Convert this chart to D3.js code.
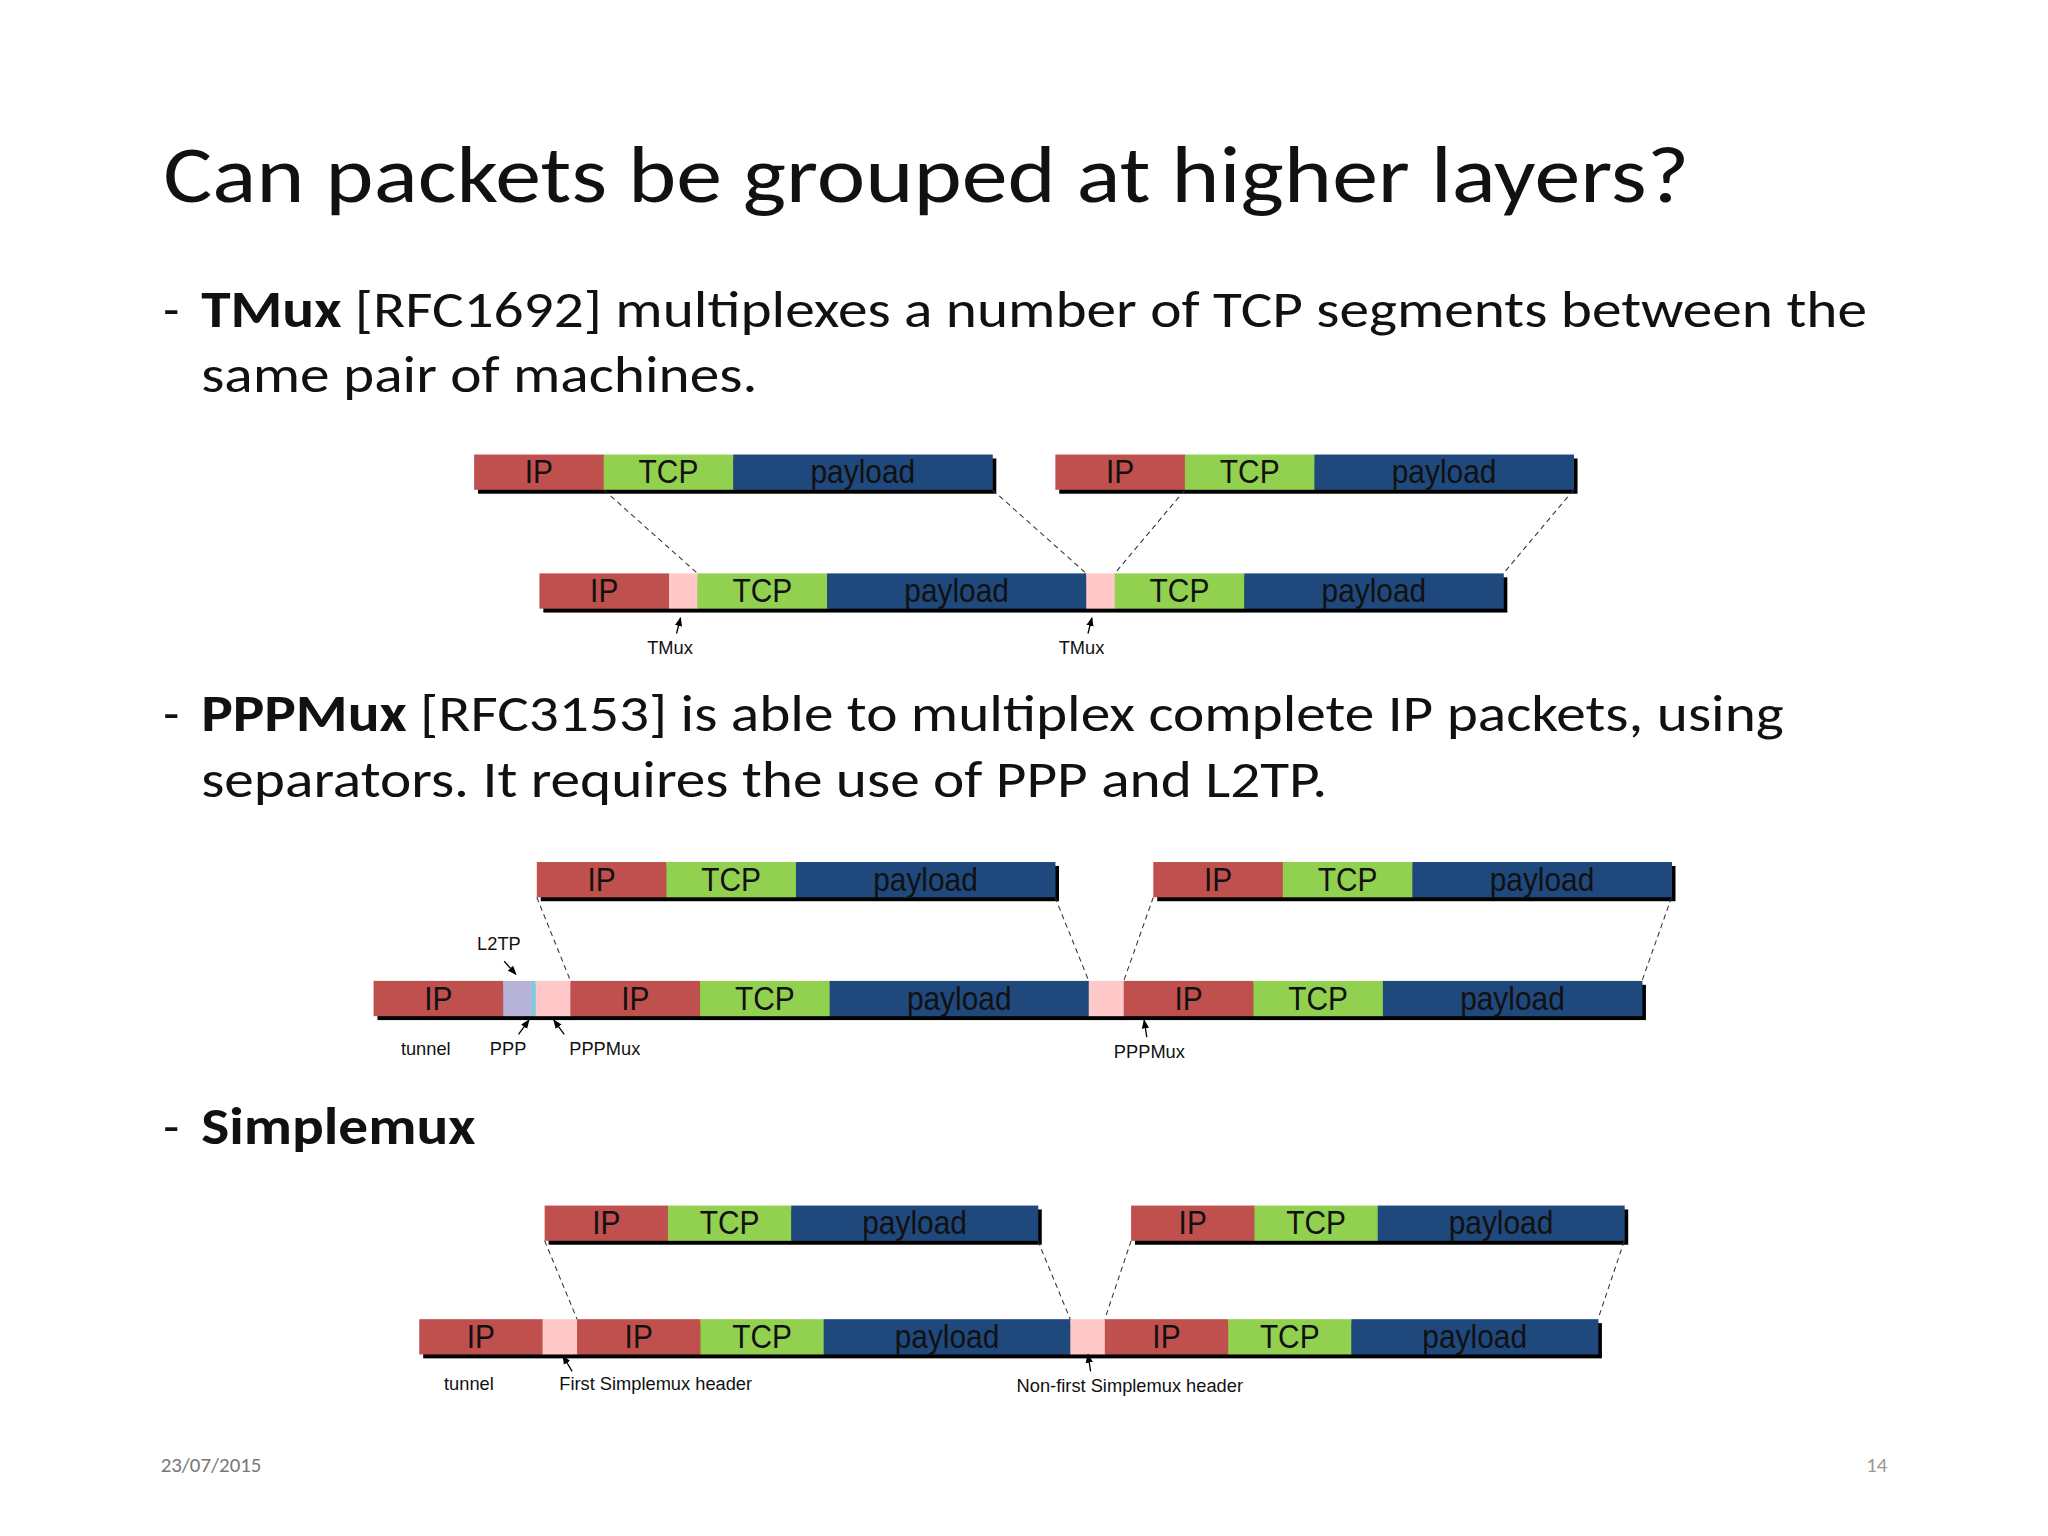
<!DOCTYPE html>
<html><head><meta charset="utf-8">
<script src="https://cdn.jsdelivr.net/npm/d3@7"></script>
<style>body{margin:0;background:#fff}svg{display:block}</style>
</head><body>
<script>
// ---- data ----
const titleText = "Can packets be grouped at higher layers?";
const bullets = [
  {bold:"TMux", rest:" [RFC1692] multiplexes a number of TCP segments between the", line2:"same pair of machines.", y:250},
  {bold:"PPPMux", rest:" [RFC3153] is able to multiplex complete IP packets, using", line2:"separators. It requires the use of PPP and L2TP.", y:560},
  {bold:"Simplemux", rest:"", line2:"", y:876}
];
const packet = [["IP",1],["TCP",1],["payload",2]];
const tmuxRow = [["IP",1],["hdr",0.22],["TCP",1],["payload",2],["hdr",0.22],["TCP",1],["payload",2]];
const pppRow = [["IP",1],["ppp",0.22],["l2tp",0.03],["hdr",0.27],["IP",1],["TCP",1],["payload",2],["hdr",0.27],["IP",1],["TCP",1],["payload",2]];
const smxRow = [["IP",1],["hdr",0.28],["IP",1],["TCP",1],["payload",2],["hdr",0.28],["IP",1],["TCP",1],["payload",2]];
const diagrams = [
  {unit:99.2, topY:348, botY:439, tops:[363,808], botX:413, row:tmuxRow, startSeg:1, links:[[0,2],[0,4],[1,5],[1,7]],
   labels:[["TMux",513,501,"middle"],["TMux",828,501,"middle"]],
   arrows:[[518,485,521,473],[833,485,836,473]]},
  {unit:99.2, topY:660, botY:751, tops:[411,883], botX:286, row:pppRow, startSeg:0, links:[[0,4],[0,7],[1,8],[1,11]],
   labels:[["L2TP",382,727,"middle"],["tunnel",326,808,"middle"],["PPP",389,808,"middle"],["PPPMux",463,808,"middle"],["PPPMux",880,810,"middle"]],
   arrows:[[386,736,395,746],[397,792,405,781],[432,792,424,781],[878,794,876,781]]},
  {unit:94.4, topY:923, botY:1010, tops:[417,866], botX:321, row:smxRow, startSeg:0, links:[[0,2],[0,5],[1,6],[1,9]],
   labels:[["tunnel",359,1064,"middle"],["First Simplemux header",502,1064,"middle"],["Non-first Simplemux header",865,1066,"middle"]],
   arrows:[[438,1050,431,1038],[835,1050,833,1037]]}
];
const colors = {IP:"#c0504d", TCP:"#92d050", payload:"#1f497d", hdr:"#ffc9c9", ppp:"#b7b3d9", l2tp:"#78cde0"};
const footerDate = "23/07/2015", pageNum = "14";

// ---- drawing ----
const svg = d3.select("body").append("svg").attr("width",2048).attr("height",1536).attr("viewBox","0 0 1568 1176");
svg.append("defs").append("marker").attr("id","ah").attr("viewBox","0 0 10 10").attr("refX",9).attr("refY",5)
  .attr("markerWidth",7).attr("markerHeight",7).attr("orient","auto")
  .append("path").attr("d","M0,1L10,5L0,9z").attr("fill","#000");

const sans = "Carlito, Calibri, Lato, sans-serif";
const SX = 1.135;
function stretched(x){ return svg.append("g").attr("transform",`translate(${x},0) scale(${SX},1)`); }
stretched(125).append("text").attr("x",0).attr("y",155).attr("font-family",sans).attr("font-weight",300)
  .attr("font-size",62).attr("fill","#111").text(titleText);
bullets.forEach(b=>{
  svg.append("text").attr("x",125).attr("y",b.y).attr("font-family",sans).attr("font-size",40).attr("fill","#111").text("-");
  const t = stretched(154).append("text").attr("x",0).attr("y",b.y).attr("font-family",sans).attr("font-size",40).attr("fill","#111");
  t.append("tspan").attr("font-weight",700).text(b.bold);
  t.append("tspan").text(b.rest);
  if(b.line2) stretched(154).append("text").attr("x",0).attr("y",b.y+50).attr("font-family",sans).attr("font-size",40).attr("fill","#111").text(b.line2);
});
svg.append("text").attr("x",123).attr("y",1127).attr("font-family",sans).attr("font-size",16).attr("fill","#777").text(footerDate);
svg.append("text").attr("x",1445).attr("y",1127).attr("text-anchor","end").attr("font-family",sans).attr("font-size",16).attr("fill","#999").text(pageNum);

const H = 27;
function drawBar(g, segs, x, unit, y){
  const total = d3.sum(segs,d=>d[1]);
  const xs = d3.scaleLinear().domain([0,total]).range([x, x+total*unit]);
  let acc=0; const bounds=[];
  const segData = segs.map(s=>{ const d={k:s[0],x0:xs(acc)}; bounds.push(d.x0); acc+=s[1]; d.x1=xs(acc); return d; });
  bounds.push(xs(acc));
  g.append("rect").attr("x",xs(0)+3).attr("y",y+3).attr("width",xs(total)-xs(0)).attr("height",H).attr("fill","#000");
  g.selectAll(null).data(segData).join("rect").attr("x",d=>d.x0).attr("y",y).attr("width",d=>d.x1-d.x0+0.3)
    .attr("height",H).attr("fill",d=>colors[d.k]);
  g.selectAll(null).data(segData.filter(d=>["IP","TCP","payload"].includes(d.k))).join("text")
    .attr("x",d=>(d.x0+d.x1)/2).attr("y",y+22).attr("text-anchor","middle")
    .attr("font-family","'Liberation Sans', Arial, sans-serif").attr("font-size",26)
    .attr("fill","#111").attr("transform",d=>`translate(${(d.x0+d.x1)/2},0) scale(0.88,1) translate(${-(d.x0+d.x1)/2},0)`).text(d=>d.k);
  return bounds;
}
diagrams.forEach(D=>{
  const g = svg.append("g");
  const topB = D.tops.map(x=>drawBar(g, packet, x, D.unit, D.topY));
  const botB = drawBar(g, D.row, D.botX, D.unit, D.botY);
  D.links.forEach(([p,bi],i)=>{
    const tx = i%2===0 ? topB[p][D.startSeg] : topB[p][3];
    g.append("line").attr("x1",tx).attr("y1",D.topY+H).attr("x2",botB[bi]).attr("y2",D.botY)
      .attr("stroke","#333").attr("stroke-width",0.8).attr("stroke-dasharray","4,3");
  });
  D.labels.forEach(l=>g.append("text").attr("x",l[1]).attr("y",l[2]).attr("text-anchor",l[3])
    .attr("font-family","'Liberation Sans', Arial, sans-serif").attr("font-size",14).attr("fill","#111").text(l[0]));
  D.arrows.forEach(a=>g.append("line").attr("x1",a[0]).attr("y1",a[1]).attr("x2",a[2]).attr("y2",a[3])
    .attr("stroke","#000").attr("stroke-width",1).attr("marker-end","url(#ah)"));
});
</script>
</body></html>
